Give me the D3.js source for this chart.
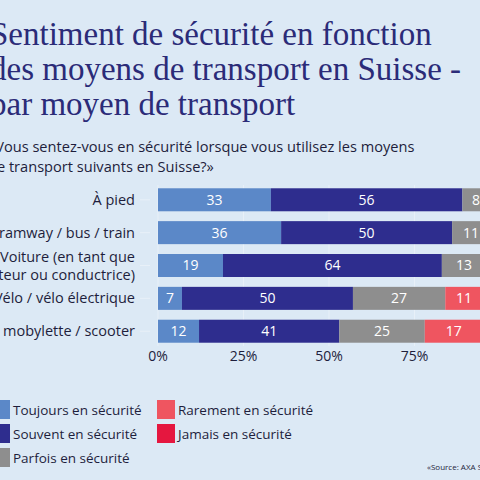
<!DOCTYPE html>
<html><head><meta charset="utf-8">
<script src="https://cdn.jsdelivr.net/npm/d3@7"></script>
<style>body{margin:0;background:#dce9f5;overflow:hidden}text{font-family:"Open Sans",sans-serif}</style>
</head><body><svg id="c"></svg>
<script>
const categories = ["À pied", "Tramway / bus / train", "Voiture (en tant que|conducteur ou conductrice)", "Vélo / vélo électrique", "Moto / mobylette / scooter"];
const series = ["Toujours en sécurité", "Souvent en sécurité", "Parfois en sécurité", "Rarement en sécurité", "Jamais en sécurité"];
const toujours = [33, 36, 19, 7, 12];
const souvent = [56, 50, 64, 50, 41];
const parfois = [8, 11, 13, 27, 25];
const rarement = [2, 2, 3, 11, 17];
const jamais = [1, 1, 1, 5, 5];
const ticks = [0, 25, 50, 75, 100];
const colors = ["#5b88c8", "#2e2d8e", "#8e8e8e", "#ef5560", "#e5173f"];

const width = 480, height = 480;
const svg = d3.select("#c").attr("width", width).attr("height", height);

const table = categories.map((c, i) => ({ cat: c, vals: [toujours[i], souvent[i], parfois[i], rarement[i], jamais[i]] }));

const x = d3.scaleLinear().domain([0, 100]).range([158, 500]);
const y = d3.scaleBand().domain(categories).range([185, 346]).paddingInner(0.3).paddingOuter(0.1);

// title
const title = ["Sentiment de sécurité en fonction", "des moyens de transport en Suisse -", "par moyen de transport"];
svg.selectAll(".t").data(title).enter().append("text")
  .attr("x", -10).attr("y", (d, i) => 45 + i * 35)
  .style("font-family", "'Liberation Serif', serif").attr("font-size", 33)
  .attr("fill", "#2b2b78").text(d => d);

const sub = ["«Vous sentez-vous en sécurité lorsque vous utilisez les moyens", "de transport suivants en Suisse?»"];
svg.selectAll(".s").data(sub).enter().append("text")
  .attr("x", -12).attr("y", (d, i) => 152 + i * 20)
  .attr("font-size", 14.6).attr("fill", "#1e1e3c").text(d => d);

// grid
svg.selectAll(".g").data(ticks).enter().append("line")
  .attr("x1", d => x(d)).attr("x2", d => x(d)).attr("y1", 185).attr("y2", 346)
  .attr("stroke", "#e8f0f8").attr("stroke-width", 1);

const rows = svg.selectAll(".row").data(table).enter().append("g");
rows.each(function (d) {
  let acc = 0;
  const g = d3.select(this);
  d.vals.forEach((v, k) => {
    g.append("rect").attr("x", x(acc)).attr("width", x(acc + v) - x(acc))
      .attr("y", y(d.cat)).attr("height", y.bandwidth()).attr("fill", colors[k]);
    if (v >= 5) g.append("text").attr("x", (x(acc) + x(acc + v)) / 2).attr("y", y(d.cat) + y.bandwidth() / 2)
      .attr("dy", "0.35em").attr("text-anchor", "middle").attr("font-size", 14).attr("fill", "#fff").text(v);
    acc += v;
  });
  const lines = d.cat.split("|");
  lines.forEach((l, j) => {
    g.append("text").attr("x", 135).attr("text-anchor", "end")
      .attr("y", y(d.cat) + y.bandwidth() / 2 + (j - (lines.length - 1) / 2) * 18)
      .attr("dy", "0.35em").attr("font-size", 14.5).attr("fill", "#1e1e3c").text(l);
  });
  g.append("line").attr("x1", 140).attr("x2", 150).attr("y1", y(d.cat) + y.bandwidth() / 2).attr("y2", y(d.cat) + y.bandwidth() / 2).attr("stroke", "#e8f0f8");
});

svg.selectAll(".tk").data(ticks).enter().append("text")
  .attr("x", d => x(d)).attr("y", 361).attr("text-anchor", "middle")
  .attr("font-size", 14).attr("fill", "#1e1e3c").text(d => d + "%");

// legend
const leg = svg.selectAll(".l").data(series).enter().append("g")
  .attr("transform", (d, i) => `translate(${i < 3 ? -8 : 157},${410 + (i % 3) * 24})`);
leg.append("rect").attr("x", 0).attr("y", -10).attr("width", 18).attr("height", 19).attr("fill", (d, i) => colors[i]);
leg.append("text").attr("x", 21).attr("dy", "0.35em").attr("font-size", 13.5).attr("fill", "#1e1e3c").text(d => d);

svg.append("text").attr("x", 427).attr("y", 470).attr("font-size", 8).attr("fill", "#1e1e3c").text("«Source: AXA Suisse»");
</script></body></html>
